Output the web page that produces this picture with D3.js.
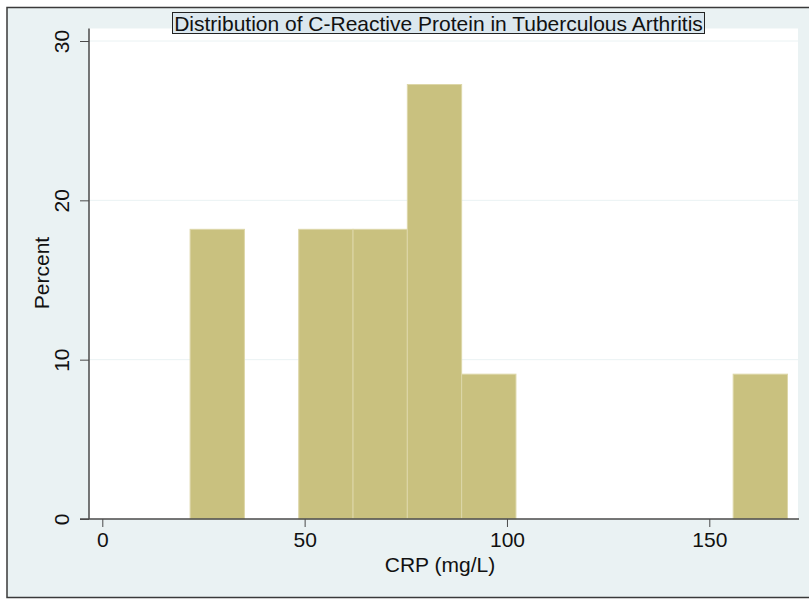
<!DOCTYPE html>
<html>
<head>
<meta charset="utf-8">
<script src="https://cdn.jsdelivr.net/npm/d3@7"></script>
<style>
  html, body { margin: 0; padding: 0; background: #ffffff; }
  svg { display: block; font-family: "Liberation Sans", Arial, sans-serif; }
</style>
</head>
<body>
<svg id="chart" width="809" height="599"></svg>
<script>
// Histogram of CRP (mg/L): lower and upper edge of each occupied bin, and its percent
const binLo = [21.7, 48.54, 61.96, 75.38, 88.8, 155.9];
const binHi = [35.12, 61.96, 75.38, 88.8, 102.22, 169.32];
const percent = [18.18, 18.18, 18.18, 27.27, 9.09, 9.09];

const xTicks = [0, 50, 100, 150];
const yTicks = [0, 10, 20, 30];

const titleText = "Distribution of C-Reactive Protein in Tuberculous Arthritis";
const xTitle = "CRP (mg/L)";
const yTitle = "Percent";

const bins = binLo.map((lo, i) => ({ lo, hi: binHi[i], pct: percent[i] }));

const svg = d3.select("#chart");
const W = 809;
const FS = 21;

// graph region
svg.append("rect")
  .attr("x", 7).attr("y", 7.5).attr("width", W).attr("height", 590)
  .attr("fill", "#eaf2f3").attr("stroke", "#3a3a3a").attr("stroke-width", 1.5);

const plot = { left: 89, right: 798, top: 28.5, bottom: 519 };

const x = d3.scaleLinear().domain([0, 150]).range([102.3, 709.3]);
const y = d3.scaleLinear().domain([0, 30]).range([plot.bottom, 41]);

// plot region
svg.append("rect")
  .attr("x", plot.left).attr("y", plot.top)
  .attr("width", plot.right - plot.left).attr("height", plot.bottom - plot.top)
  .attr("fill", "#ffffff");

// horizontal grid
svg.append("g").selectAll("line")
  .data(yTicks.filter(d => d > 0))
  .join("line")
  .attr("x1", plot.left).attr("x2", plot.right)
  .attr("y1", d => y(d)).attr("y2", d => y(d))
  .attr("stroke", "#eaf2f3").attr("stroke-width", 1);

// bars
svg.append("g").selectAll("rect")
  .data(bins)
  .join("rect")
  .attr("x", d => x(d.lo))
  .attr("width", d => x(d.hi) - x(d.lo))
  .attr("y", d => y(d.pct))
  .attr("height", d => y(0) - y(d.pct))
  .attr("fill", "#c9c17f")
  .attr("stroke", "#ddd7a8")
  .attr("stroke-width", 1);

// x axis
const xAxis = d3.axisBottom(x).tickValues(xTicks).tickSize(8).tickFormat(d3.format("d"));
const gx = svg.append("g").attr("transform", `translate(0,${plot.bottom})`).call(xAxis);
gx.select(".domain").remove();
gx.append("line")
  .attr("x1", plot.left - 9).attr("x2", plot.right + 1)
  .attr("y1", 0).attr("y2", 0)
  .attr("stroke", "#4a4a4a").attr("stroke-width", 1.5);
gx.selectAll(".tick line").attr("stroke", "#4a4a4a");
gx.selectAll(".tick text")
  .attr("fill", "#111").attr("font-size", FS)
  .attr("y", 28).attr("dy", null);

// y axis
const yAxis = d3.axisLeft(y).tickValues(yTicks).tickSize(9).tickFormat(d3.format("d"));
const gy = svg.append("g").attr("transform", `translate(${plot.left},0)`).call(yAxis);
gy.select(".domain").remove();
gy.append("line")
  .attr("x1", 0).attr("x2", 0)
  .attr("y1", plot.top).attr("y2", plot.bottom)
  .attr("stroke", "#4a4a4a").attr("stroke-width", 1.5);
gy.selectAll(".tick line").attr("stroke", "#4a4a4a");
gy.selectAll(".tick text")
  .attr("fill", "#111").attr("font-size", FS)
  .attr("x", null).attr("dy", null)
  .attr("text-anchor", "middle")
  .attr("transform", "translate(-20,0) rotate(-90)");

// axis titles
svg.append("text")
  .attr("x", 440).attr("y", 572)
  .attr("text-anchor", "middle").attr("font-size", FS).attr("fill", "#111")
  .text(xTitle);

svg.append("text")
  .attr("transform", `translate(49,273) rotate(-90)`)
  .attr("text-anchor", "middle").attr("font-size", FS).attr("fill", "#111")
  .text(yTitle);

// title box
const tg = svg.append("g");
tg.append("rect")
  .attr("x", 172.5).attr("y", 12.5).attr("width", 532).attr("height", 21)
  .attr("fill", "#dbe7ee").attr("stroke", "#222").attr("stroke-width", 1);
tg.append("text")
  .attr("x", 438.5).attr("y", 30.5)
  .attr("text-anchor", "middle").attr("font-size", FS).attr("fill", "#111")
  .text(titleText);
</script>
</body>
</html>
